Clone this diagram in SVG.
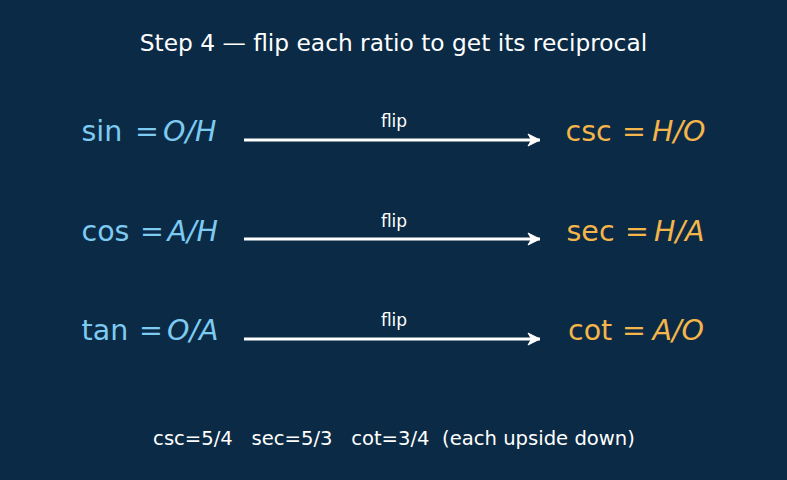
<svg xmlns="http://www.w3.org/2000/svg" width="787" height="480" viewBox="0 0 787 480">
<defs>
<style>
text{font-family:"DejaVu Sans",sans-serif}
.title{font-size:23.3px;fill:#ffffff}
.lhs{font-size:28.5px;fill:#7ecbf2}
.rhs{font-size:28.5px;fill:#f4b54a}
.it{font-style:italic}
.lbl{font-size:17px;fill:#ffffff}
.foot{font-size:19.6px;fill:#ffffff}
.arr{stroke:#ffffff;stroke-width:3;fill:none}
</style>
<marker id="ah" viewBox="0 0 16 14" refX="14" refY="7" markerWidth="16" markerHeight="14" orient="auto" markerUnits="userSpaceOnUse" overflow="visible">
<path d="M2,1 L14,7 L2,13 L5.5,7 Z" fill="#ffffff" stroke="#ffffff" stroke-width="1" stroke-linejoin="round"/>
</marker>
</defs>
<rect width="787" height="480" fill="#0b2a45"/>
<text class="title" x="393.5" y="50.5" text-anchor="middle">Step 4 — flip each ratio to get its reciprocal</text>
<g id="connectors">
<line class="arr" x1="244" y1="140" x2="540" y2="140" marker-end="url(#ah)"/>
<line class="arr" x1="244" y1="239" x2="540" y2="239" marker-end="url(#ah)"/>
<line class="arr" x1="244" y1="339" x2="540" y2="339" marker-end="url(#ah)"/>
<text class="lbl" x="394" y="127" text-anchor="middle">flip</text>
<text class="lbl" x="394" y="227" text-anchor="middle">flip</text>
<text class="lbl" x="394" y="326" text-anchor="middle">flip</text>
</g>
<g id="sin"><text class="lhs" y="141"><tspan x="81.5">sin</tspan><tspan x="135">=</tspan><tspan class="it" x="163">O/H</tspan></text></g>
<g id="cos"><text class="lhs" y="241"><tspan x="81.5">cos</tspan><tspan x="140">=</tspan><tspan class="it" x="167.5">A/H</tspan></text></g>
<g id="tan"><text class="lhs" y="340"><tspan x="81.5">tan</tspan><tspan x="139">=</tspan><tspan class="it" x="167">O/A</tspan></text></g>
<g id="csc"><text class="rhs" y="141"><tspan x="565.5">csc</tspan><tspan x="622">=</tspan><tspan class="it" x="652">H/O</tspan></text></g>
<g id="sec"><text class="rhs" y="241"><tspan x="566.5">sec</tspan><tspan x="625">=</tspan><tspan class="it" x="654">H/A</tspan></text></g>
<g id="cot"><text class="rhs" y="340"><tspan x="568">cot</tspan><tspan x="622">=</tspan><tspan class="it" x="652.5">A/O</tspan></text></g>
<text class="foot" x="394" y="444.5" text-anchor="middle" xml:space="preserve">csc=5/4   sec=5/3   cot=3/4  (each upside down)</text>
</svg>
